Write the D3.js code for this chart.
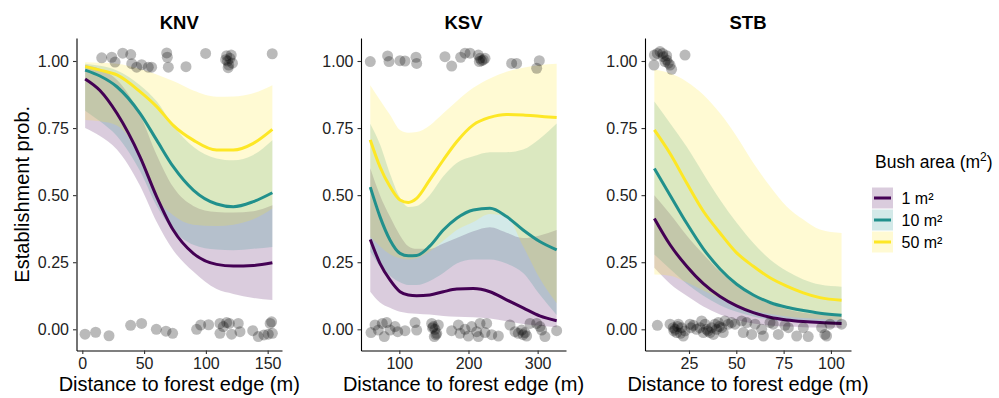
<!DOCTYPE html>
<html><head><meta charset="utf-8">
<script src="https://cdn.jsdelivr.net/npm/d3@7"></script>
<style>
body{margin:0;background:#fff;}
svg{display:block;font-family:"Liberation Sans",Arial,sans-serif;}
</style></head>
<body><svg id="c" width="999" height="398"></svg>
<script>
// ---------- DATA ----------
const panels = ["KNV","KSV","STB"];
const seriesLabels = ["1 m²","10 m²","50 m²"];
const seriesColors = ["#440154","#21908C","#FDE725"];
const yTicks = [0,0.25,0.5,0.75,1];
const knvTicks = [0,50,100,150];
const ksvTicks = [100,200,300];
const stbTicks = [25,50,75,100];

// KNV
const knvX   = [2.3, 14.3, 28, 46.7, 60.2, 73.6, 89.8, 108.7, 122.2, 138.4, 153.8];
const knvFit1= [0.933,0.89,0.805,0.643,0.494,0.37,0.283,0.242,0.236,0.238,0.248];
const knvLo1 = [0.75,0.72,0.67,0.535,0.40,0.295,0.215,0.15,0.132,0.117,0.109];
const knvHi1 = [0.985,0.97,0.93,0.80,0.65,0.53,0.46,0.437,0.435,0.44,0.462];
const knvFit2= [0.966,0.944,0.904,0.805,0.705,0.606,0.519,0.467,0.457,0.476,0.509];
const knvLo2 = [0.815,0.775,0.72,0.59,0.46,0.37,0.315,0.297,0.295,0.30,0.307];
const knvHi2 = [0.99,0.982,0.965,0.91,0.85,0.76,0.68,0.637,0.63,0.65,0.705];
const knvFit3= [0.979,0.966,0.948,0.886,0.83,0.76,0.705,0.668,0.668,0.693,0.745];
const knvLo3 = [0.78,0.775,0.76,0.64,0.49,0.425,0.39,0.385,0.39,0.41,0.45];
const knvHi3 = [0.995,0.993,0.99,0.97,0.95,0.925,0.89,0.867,0.868,0.88,0.91];
const knvPtsX = [2.2,10.8,21.6,39.1,48,59.9,67.7,73.1,92.5,95.8,102.2,111.4,111.4,114.1,116.8,120.8,119,126.2,127.6,137.9,142.4,147,150.5,153.2,153.8,152,
                 15.7,23.8,26.5,32.7,39.2,40,44,48,53.4,56.1,68.3,68.8,69.6,83.9,99.8,116.8,117.5,118.5,119.5,120.5,121.5,118,116,153.7];
const knvPtsY = [-0.018,-0.011,-0.024,0.015,0.022,0,-0.007,-0.015,0,0.016,0.017,0.022,-0.015,0.01,0.025,-0.018,0.022,0.022,-0.009,-0.005,-0.027,-0.021,-0.018,0.028,-0.015,0.022,
                 1.012,1.014,0.996,1.029,1.024,0.99,0.977,0.986,0.977,0.977,1.03,1.014,0.977,0.979,1.028,1.02,1.0,0.985,1.01,1.022,0.992,0.975,1.005,1.027];

// KSV
const ksvX   = [58,72,86.5,101,113,125,144,163.6,183,207,231,255,279,303,327.5];
const ksvFit1= [0.335,0.246,0.184,0.14,0.128,0.125,0.128,0.14,0.15,0.152,0.14,0.11,0.08,0.05,0.032];
const ksvLo1 = [0.14,0.10,0.08,0.065,0.06,0.058,0.055,0.05,0.047,0.045,0.04,0.03,0.02,0.013,0.008];
const ksvHi1 = [0.60,0.50,0.42,0.35,0.31,0.30,0.30,0.32,0.34,0.365,0.38,0.36,0.34,0.35,0.37];
const ksvFit2= [0.53,0.42,0.333,0.283,0.274,0.275,0.31,0.37,0.414,0.445,0.451,0.42,0.37,0.327,0.296];
const ksvLo2 = [0.29,0.235,0.20,0.175,0.165,0.165,0.18,0.21,0.245,0.26,0.26,0.245,0.21,0.13,0.053];
const ksvHi2 = [0.766,0.69,0.58,0.49,0.456,0.46,0.50,0.57,0.62,0.645,0.66,0.66,0.67,0.71,0.767];
const ksvFit3= [0.706,0.606,0.532,0.482,0.473,0.488,0.557,0.631,0.699,0.762,0.79,0.801,0.799,0.794,0.789];
const ksvLo3 = [0.345,0.31,0.28,0.265,0.26,0.265,0.29,0.33,0.37,0.40,0.43,0.42,0.31,0.19,0.097];
const ksvHi3 = [0.91,0.855,0.80,0.743,0.733,0.735,0.76,0.805,0.85,0.90,0.935,0.96,0.975,0.985,0.99];
const ksvPtsX = [58,83.1,85.1,101,108.2,124.1,125.1,166,175.7,188.7,195,202.2,214.2,216.6,219,221.4,215.7,223.9,262.4,269.6,298.6,302.4,
                 59.1,64.9,69.6,75.4,81.8,78.3,86.6,93.8,97.7,108.2,122.7,125.1,146.8,149.2,151.6,154.1,150.6,156.4,148,153,175.7,185.4,187.8,195,199.8,204.6,211.9,214.3,216.7,223.9,226.3,233.6,243.2,260,267.3,272.1,276.9,281.7,284.1,279,289,298.6,303.4,305.8,310.6,327.5];
const ksvPtsY = [0.998,1.019,0.998,1.001,1.0,1.014,0.991,1.016,0.981,1.014,1.029,1.029,1.022,1.01,1.001,1.004,0.998,1.01,0.991,0.991,0.973,1.001,
                 -0.012,0.016,-0.003,0.022,0.025,-0.027,-0.003,0.01,-0.009,-0.005,0.025,-0.003,0.022,0.01,0,-0.015,-0.027,0.016,0.005,-0.02,-0.005,0.016,-0.015,0,-0.025,0.01,-0.009,-0.027,0.022,-0.012,0.022,-0.02,-0.025,0.016,-0.009,-0.015,-0.003,-0.012,-0.025,-0.02,0.022,0.022,0.01,-0.003,-0.027,-0.005];

// STB
const stbX   = [6.7,15,23.8,32.6,41.4,50.2,59,67.8,76.6,85.4,94.2,105.6];
const stbFit1= [0.413,0.315,0.235,0.17,0.122,0.087,0.062,0.045,0.035,0.029,0.025,0.022];
const stbLo1 = [0.229,0.17,0.125,0.085,0.055,0.035,0.022,0.014,0.01,0.008,0.007,0.006];
const stbHi1 = [0.50,0.43,0.35,0.28,0.215,0.165,0.125,0.095,0.075,0.062,0.055,0.05];
const stbFit2= [0.599,0.50,0.395,0.30,0.225,0.168,0.128,0.10,0.082,0.07,0.06,0.052];
const stbLo2 = [0.279,0.225,0.17,0.125,0.09,0.065,0.048,0.036,0.03,0.027,0.025,0.023];
const stbHi2 = [0.849,0.768,0.68,0.58,0.483,0.397,0.322,0.26,0.217,0.186,0.167,0.159];
const stbFit3= [0.743,0.655,0.545,0.44,0.359,0.285,0.235,0.192,0.161,0.136,0.118,0.108];
const stbLo3 = [0.204,0.20,0.175,0.145,0.115,0.09,0.07,0.057,0.048,0.042,0.038,0.035];
const stbHi3 = [0.967,0.954,0.923,0.874,0.805,0.719,0.62,0.533,0.458,0.409,0.372,0.359];
const stbPtsX = [6.7,6.5,8.3,9.7,11.4,12.3,13.2,14.1,15,15.8,13.2,11.1,22.9,
                 8.3,15,16.7,17.6,18.5,19.4,21.1,22,22.9,25.5,27.3,29,30.8,31.7,32.6,33.5,34.3,36.1,37,37.9,38.7,39.6,40.5,42.3,43.1,44,45.8,47.5,49.3,52.8,53.7,55.5,58.1,59.9,63.4,64.3,67.8,69.5,72.2,75.7,77.5,81.9,85.4,88,95.1,96.8,97.7,99.5,105.6,17,19,20.5,35,41,26];
const stbPtsY = [1.022,0.985,1.028,1.035,1.016,0.998,1.004,0.992,0.985,0.969,1.02,1.028,1.022,
                 0.015,0.019,0.006,0,-0.012,0.019,0.006,-0.025,-0.006,0.019,0.015,0,0.006,0.031,-0.012,0.019,0,-0.012,0.006,-0.019,0.019,0,0.025,0.006,-0.012,0.031,0.019,0.025,0.019,0.031,-0.012,0.025,-0.019,0.019,0,-0.025,0.025,0.019,-0.019,0.015,0.006,-0.025,0.006,-0.027,0.006,-0.019,-0.025,0.019,0.019,-0.006,0.01,-0.015,-0.006,0.01,0.006];

// ---------- LAYOUT ----------
const panelData = [
  {title:"KNV", x:knvX, fit:[knvFit1,knvFit2,knvFit3], lo:[knvLo1,knvLo2,knvLo3], hi:[knvHi1,knvHi2,knvHi3], px:knvPtsX, py:knvPtsY, ticks:knvTicks, dom:[-4.7,161.6], left:76.5, right:282},
  {title:"KSV", x:ksvX, fit:[ksvFit1,ksvFit2,ksvFit3], lo:[ksvLo1,ksvLo2,ksvLo3], hi:[ksvHi1,ksvHi2,ksvHi3], px:ksvPtsX, py:ksvPtsY, ticks:ksvTicks, dom:[44.6,341], left:361, right:566},
  {title:"STB", x:stbX, fit:[stbFit1,stbFit2,stbFit3], lo:[stbLo1,stbLo2,stbLo3], hi:[stbHi1,stbHi2,stbHi3], px:stbPtsX, py:stbPtsY, ticks:stbTicks, dom:[1.76,110.6], left:645, right:851}
];
const plotTop = 38, plotBottom = 350.5;
const svg = d3.select("#c");
const y = d3.scaleLinear().domain([-0.079,1.0857]).range([plotBottom, plotTop]);
const curve = d3.curveMonotoneX;
const font = '"Liberation Sans",Arial,sans-serif';

panelData.forEach(p => {
  const x = d3.scaleLinear().domain(p.dom).range([p.left, p.right]);
  const g = svg.append("g");
  [0,1,2].forEach(s => {
    const pts = p.x.map((xv,i)=>({x:xv, lo:p.lo[s][i], hi:p.hi[s][i]}));
    g.append("path").datum(pts)
      .attr("d", d3.area().x(d=>x(d.x)).y0(d=>y(d.lo)).y1(d=>y(d.hi)).curve(curve))
      .attr("fill", seriesColors[s]).attr("fill-opacity", 0.2);
  });
  [0,1,2].forEach(s => {
    const pts = p.x.map((xv,i)=>({x:xv, v:p.fit[s][i]}));
    g.append("path").datum(pts)
      .attr("d", d3.line().x(d=>x(d.x)).y(d=>y(d.v)).curve(curve))
      .attr("fill","none").attr("stroke", seriesColors[s]).attr("stroke-width", 3);
  });
  g.selectAll("circle.pt").data(p.px.map((xv,i)=>({x:xv,y:p.py[i]}))).join("circle")
    .attr("class","pt")
    .attr("cx", d=>x(d.x)).attr("cy", d=>y(d.y)).attr("r", 5.5)
    .attr("fill","#000").attr("fill-opacity",0.27);
  const xa = g.append("g").attr("transform",`translate(0,${plotBottom})`)
    .call(d3.axisBottom(x).tickValues(p.ticks).tickSize(3.5).tickSizeOuter(0).tickPadding(4));
  const ya = g.append("g").attr("transform",`translate(${p.left},0)`)
    .call(d3.axisLeft(y).tickValues(yTicks).tickFormat(d3.format(".2f")).tickSize(3.5).tickSizeOuter(0).tickPadding(4));
  [xa,ya].forEach(a=>{
    a.select(".domain").attr("stroke","#000").attr("stroke-width",1.1);
    a.selectAll(".tick line").attr("stroke","#333").attr("stroke-width",1.1);
    a.selectAll(".tick text").attr("fill","#222").style("font-size","16px").style("font-family",font);
  });
  g.append("text").attr("x",(p.left+p.right)/2).attr("y",29).attr("text-anchor","middle")
    .style("font-size","18.5px").style("font-weight","bold").style("font-family",font).text(p.title);
  g.append("text").attr("x",(p.left+p.right)/2).attr("y",391).attr("text-anchor","middle")
    .style("font-size","20px").style("font-family",font).attr("fill","#000").text("Distance to forest edge (m)");
});

svg.append("text").attr("transform",`translate(29,${(plotTop+plotBottom)/2}) rotate(-90)`).attr("text-anchor","middle")
  .style("font-size","20px").style("font-family",font).text("Establishment prob.");

const lg = svg.append("g");
const lt = lg.append("text").attr("x",875).attr("y",168).style("font-size","17.5px").style("font-family",font);
lt.append("tspan").text("Bush area (m");
lt.append("tspan").attr("dy",-7).style("font-size","12px").text("2");
lt.append("tspan").attr("dy",7).text(")");
seriesLabels.forEach((lab,i)=>{
  const ky = 187.5 + i*22;
  lg.append("rect").attr("x",872).attr("y",ky).attr("width",21).attr("height",21)
    .attr("fill",seriesColors[i]).attr("fill-opacity",0.2);
  lg.append("line").attr("x1",874).attr("x2",891).attr("y1",ky+10.5).attr("y2",ky+10.5)
    .attr("stroke",seriesColors[i]).attr("stroke-width",3);
  lg.append("text").attr("x",901.5).attr("y",ky+16).style("font-size","16px").style("font-family",font).text(lab);
});
</script></body></html>
